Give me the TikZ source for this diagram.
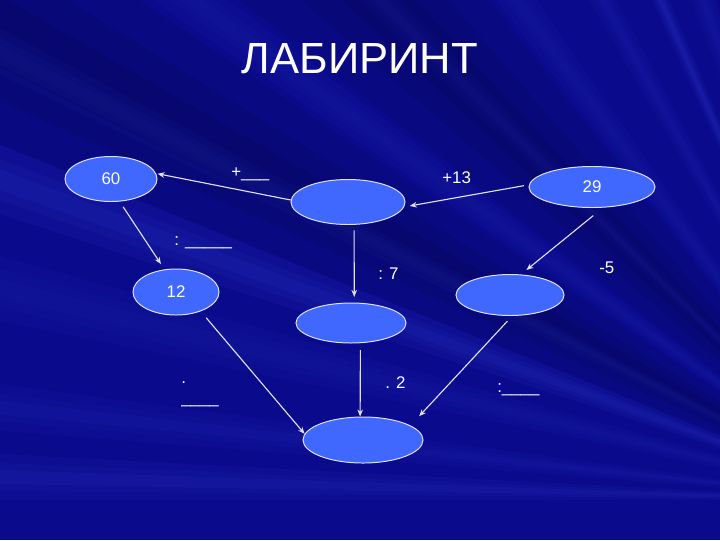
\documentclass[tikz,border=0pt]{standalone}
\usepackage{fontspec}
\setmainfont{Liberation Sans}
\usetikzlibrary{shapes.geometric, arrows.meta}
\definecolor{bgblue}{RGB}{10,10,140}
\definecolor{ovalblue}{RGB}{64,104,255}
\definecolor{linegray}{RGB}{225,225,245}
\definecolor{rayblue}{RGB}{80,100,255}

\begin{document}
\begin{tikzpicture}[x=0.025cm, y=-0.025cm,
  oval/.style={ellipse, draw=linegray, fill=ovalblue, line width=0.7pt, inner sep=0pt, text=white, font=\fontsize{12}{14}\selectfont},
  lbl/.style={text=white, inner sep=0pt, anchor=base west, font=\fontsize{12}{14}\selectfont},
  arr/.style={draw=linegray, line width=0.8pt, -{Stealth[length=5pt, width=4pt]}},
  ray/.style={fill=rayblue, fill opacity=#1},
  shade/.style={fill=black, fill opacity=#1}]
  \useasboundingbox (0,0) rectangle (720,540);
  \fill[bgblue] (0,0) rectangle (720,540);

  % background rays, soft edges
  \begin{scope}
    \clip (0,0) rectangle (720,540);
    \foreach \c/\w in {208/6, 225/7, 257/5}
      \foreach \k in {1,0.6,0.3}
        \fill[shade=0.07] (880,500) -- +(\c-\k*\w:1300) -- +(\c+\k*\w:1300) -- cycle;
    \foreach \c/\w/\o in {181.5/1.5/0.05, 186/1.5/0.04, 193.5/2/0.035, 200/2/0.06, 207/1.2/0.035, 216/1.5/0.035, 225/1.2/0.03, 234/1.5/0.035, 241/1.2/0.04, 246.3/0.8/0.07, 250.5/1.2/0.04}
      \foreach \k in {1,0.6,0.3}
        \fill[ray=\o] (880,500) -- +(\c-\k*\w:1300) -- +(\c+\k*\w:1300) -- cycle;
  \end{scope}

  \node[text=white, font=\fontsize{31}{36}\selectfont, anchor=base] (title) at (360,73) {ЛАБИРИНТ};

  \node[oval, minimum width=2.3cm, minimum height=1.125cm] (s60) at (111,179) {60};
  \node[oval, minimum width=2.85cm, minimum height=1.125cm] (up) at (348,202) {};
  \node[oval, minimum width=3.15cm, minimum height=1.025cm] (s29) at (592,187) {29};
  \node[oval, minimum width=2.15cm, minimum height=1.15cm] (s12) at (176,292) {12};
  \node[oval, minimum width=2.75cm, minimum height=1cm] (mid) at (351,323) {};
  \node[oval, minimum width=2.7cm, minimum height=1.025cm] (side) at (510,295) {};
  \node[oval, minimum width=3cm, minimum height=1.15cm] (goal) at (363,440) {};

  \draw[arr, shorten >=1pt] (up.178) -- (s60.7);
  \draw[arr, shorten <=3.5pt, shorten >=4pt] (s29.178) -- (up.-5);
  \draw[arr, shorten <=4.5pt, shorten >=4.5pt] (s60.-69) -- (s12.117);
  \draw[arr, shorten <=4pt, shorten >=4pt] (up.-75) -- (mid.81);
  \draw[arr, shorten <=9pt, shorten >=5pt] (s29.-62) -- (side.62);
  \draw[arr, shorten <=6pt] (s12.-38) -- (goal.174);
  \draw[arr, shorten <=5pt] (mid.-65) -- (goal.97);
  \draw[arr, shorten <=5pt, shorten >=9pt] (side.-84) -- (goal.17);

  \node[lbl] (plus) at (231,177) {+\_\_\_};
  \node[lbl] (div1) at (174,245) {: \_\_\_\_\_};
  \node[lbl] (p13) at (442,183) {+13};
  \node[lbl] (m5) at (599,273) {-5};
  \node[lbl] (d7) at (378,279) {: 7};
  \node[lbl] (t2) at (385,388) {. 2};
  \node[lbl, align=left] (dotl) at (181,403) {.\\\_\_\_\_};
  \node[lbl] (div2) at (497,392) {:\_\_\_\_};
\end{tikzpicture}
\end{document}
